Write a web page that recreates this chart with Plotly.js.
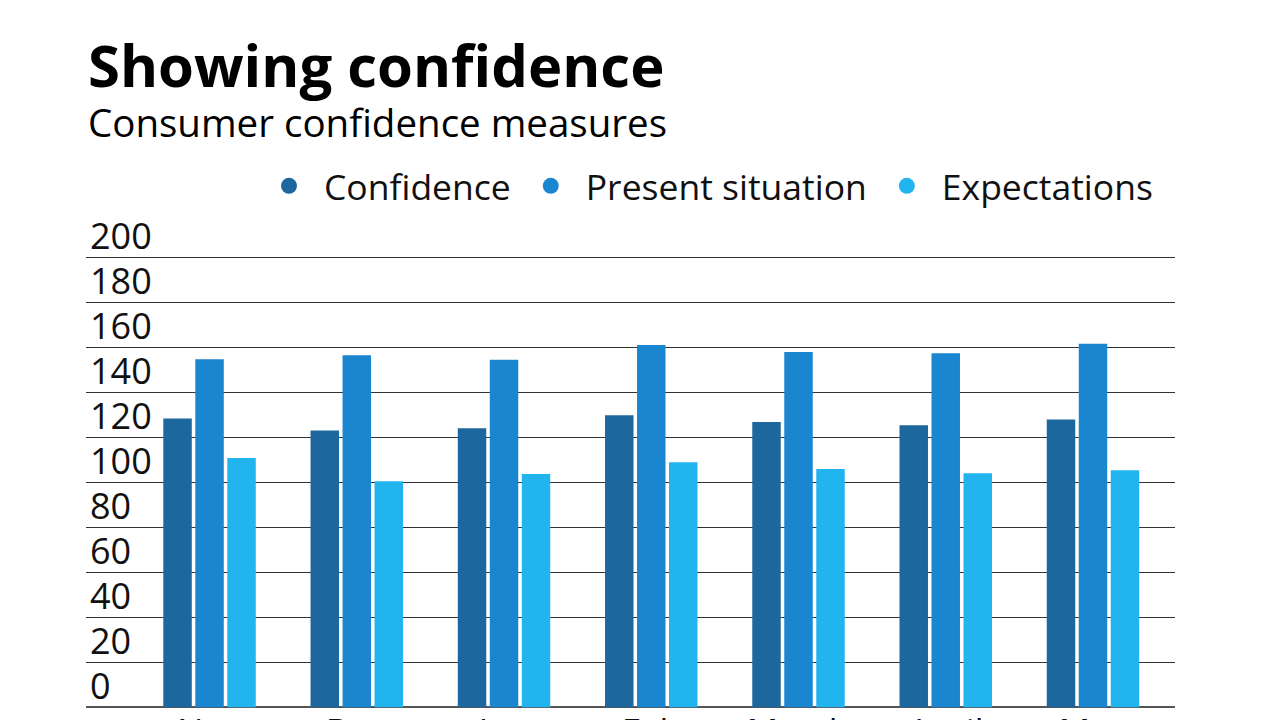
<!DOCTYPE html>
<html>
<head>
<meta charset="utf-8">
<script src="https://cdn.plot.ly/plotly-3.0.1.min.js"></script>
<style>
  html, body { margin: 0; padding: 0; background: #ffffff; }
  #chart { width: 1280px; height: 720px; }
</style>
</head>
<body>
<div id="chart"></div>
<script>
const months = ["Nov", "Dec", "Jan", "Feb", "March", "April", "May"];
const confidence = [128.3, 123.0, 124.0, 129.8, 126.8, 125.3, 127.9];
const presentSituation = [154.7, 156.4, 154.5, 161.0, 157.9, 157.3, 161.6];
const expectations = [110.8, 100.4, 103.7, 108.9, 105.9, 104.0, 105.3];
const yTicks = [0, 20, 40, 60, 80, 100, 120, 140, 160, 180, 200];
const seriesNames = ["Confidence", "Present situation", "Expectations"];
const seriesColors = ["#1b679e", "#1b86d0", "#22b4ef"];
const titleText = "Showing confidence";
const subtitleText = "Consumer confidence measures";

const FONT = "'Open Sans', Lato, sans-serif";
const seriesValues = [confidence, presentSituation, expectations];

const traces = [];
seriesValues.forEach((vals, i) => {
  traces.push({
    type: "bar",
    x: months,
    y: vals,
    name: seriesNames[i],
    showlegend: false,
    marker: { color: seriesColors[i], line: { width: 0 } },
    hoverinfo: "skip"
  });
});
// legend proxies (circles)
seriesValues.forEach((vals, i) => {
  traces.push({
    type: "scatter",
    mode: "markers",
    x: [months[0]],
    y: [null],
    name: seriesNames[i],
    showlegend: true,
    marker: { color: seriesColors[i], size: 16, symbol: "circle" },
    hoverinfo: "skip"
  });
});

// vertical scale: 2.25 px per unit, value 0 at pixel 707
const PX = 2.25, ZERO = 707;
const yMin = -3, yMax = 245;
const plotLeft = 86, plotRight = 1175;
const plotTop = ZERO - yMax * PX, plotBottom = ZERO - yMin * PX;
const plotH = plotBottom - plotTop;
const py = p => (plotBottom - p) / plotH;
const px = p => (p - plotLeft) / (plotRight - plotLeft);

const layout = {
  width: 1280,
  height: 720,
  margin: { l: plotLeft, r: 1280 - plotRight, t: plotTop, b: 720 - plotBottom, pad: 0 },
  paper_bgcolor: "#ffffff",
  plot_bgcolor: "rgba(0,0,0,0)",
  font: { family: FONT, color: "#111111" },
  barmode: "group",
  bargap: 0.348,
  bargroupgap: 0.11,
  showlegend: true,
  legend: {
    orientation: "h",
    xref: "paper",
    yref: "paper",
    x: px(254),
    y: py(186),
    xanchor: "left",
    yanchor: "middle",
    itemwidth: 60,
    font: { family: FONT, size: 35.5, color: "#111111" },
    bgcolor: "rgba(0,0,0,0)",
    itemclick: false,
    itemdoubleclick: false
  },
  xaxis: {
    type: "category",
    range: [-0.839, 6.557],
    showgrid: false,
    zeroline: false,
    showline: false,
    ticks: "",
    ticklabelstandoff: -6,
    tickfont: { family: FONT, size: 35, color: "#111111" },
    automargin: false,
    fixedrange: true
  },
  yaxis: {
    range: [yMin, yMax],
    tickmode: "array",
    tickvals: yTicks,
    ticktext: yTicks.map(String),
    showgrid: true,
    gridcolor: "#333333",
    gridwidth: 1.2,
    zeroline: true,
    zerolinecolor: "#555555",
    zerolinewidth: 2,
    showline: false,
    ticks: "",
    ticklabelposition: "inside",
    ticklabelshift: -21,
    ticklabelstandoff: 1,
    tickfont: { family: FONT, size: 36, color: "#111111" },
    automargin: false,
    fixedrange: true
  },
  annotations: [
    {
      text: "<b>" + titleText + "</b>",
      xref: "paper", yref: "paper",
      x: 0, y: py(106),
      xanchor: "left", yanchor: "bottom",
      showarrow: false,
      font: { family: FONT, size: 58, color: "#000000" }
    },
    {
      text: subtitleText,
      xref: "paper", yref: "paper",
      x: 0, y: py(150),
      xanchor: "left", yanchor: "bottom",
      showarrow: false,
      font: { family: FONT, size: 38.5, color: "#000000" }
    }
  ]
};

Plotly.newPlot("chart", traces, layout, { staticPlot: true, displayModeBar: false });
</script>
</body>
</html>
